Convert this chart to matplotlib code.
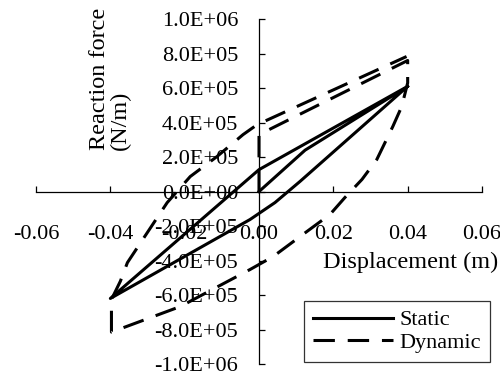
import matplotlib
matplotlib.use("Agg")
import matplotlib.pyplot as plt
import numpy as np

plt.rcParams['font.family'] = ['Liberation Serif', 'DejaVu Serif']

# static test loop (displacement m, reaction force N/m)
static_x = [0, 0.0124, 0.04, 0, -0.04, -0.0024, 0.0043, 0.011, 0.04]
static_y = [0, 2.4e5, 6.1e5, 1.27e5, -6.2e5, -1.62e5, -0.64e5, 0.58e5, 6.1e5]

# dynamic test loop
dynamic_x = [0, 0, 0.04, 0.04, 0.0384, 0.036, 0.0317, 0.0277, 0.0231, 0.0191,
             0.0118, 0.0038, -0.0024, -0.0212, -0.0397, -0.0397, -0.0373,
             -0.0354, -0.0247, -0.0185, -0.0113, -0.0043, -0.0005, 0.0397]
dynamic_y = [0, 3.3e5, 7.6e5, 6.3e5, 4.93e5, 3.77e5, 1.86e5, 0.70e5, -0.35e5,
             -1.33e5, -2.49e5, -3.77e5, -4.52e5, -6.67e5, -8.15e5, -6.26e5,
             -5.2e5, -4.12e5, -0.64e5, 0.87e5, 2.03e5, 3.3e5, 3.88e5, 7.83e5]

x_ticks = [-0.06, -0.04, -0.02, 0.0, 0.02, 0.04, 0.06]
y_ticks = [-1e6, -8e5, -6e5, -4e5, -2e5, 0, 2e5, 4e5, 6e5, 8e5, 1e6]

FS = 16
FS_TITLE = 17.5

fig = plt.figure(figsize=(5, 3.79), dpi=100)
ax = fig.add_axes([0.072, 0.0396, 0.892, 0.910])

ax.plot(static_x, static_y, color='black', lw=2.2, label='Static')
ax.plot(dynamic_x, dynamic_y, color='black', lw=2.2, dashes=(7, 4.2), label='Dynamic')

ax.set_xlim(-0.06, 0.06)
ax.set_ylim(-1e6, 1e6)
ax.spines['left'].set_position(('data', 0))
ax.spines['bottom'].set_position(('data', 0))
ax.spines['top'].set_visible(False)
ax.spines['right'].set_visible(False)
for s in ('left', 'bottom'):
    ax.spines[s].set_linewidth(0.9)

ax.set_xticks(x_ticks)
ax.set_xticklabels(['%.2f' % v for v in x_ticks], fontsize=FS)
ax.set_yticks(y_ticks)
ax.set_yticklabels(['%.1E' % v for v in y_ticks], fontsize=FS)
ax.tick_params(axis='x', direction='in', length=4.5, width=0.9, pad=24)
ax.tick_params(axis='y', direction='in', length=4.5, width=0.9, pad=15)

fig.text(411 / 500, 1 - 262 / 379, 'Displacement (m)', fontsize=FS_TITLE,
         ha='center', va='center')
fig.text(110 / 500, 1 - 150 / 379, 'Reaction force\n(N/m)', fontsize=FS_TITLE,
         rotation=90, ha='center', va='bottom', multialignment='left',
         linespacing=1.0)

leg = ax.legend(loc='lower right', bbox_to_anchor=(490 / 500, 17 / 379),
                bbox_transform=fig.transFigure, fontsize=FS, frameon=True,
                fancybox=False, handlelength=3.6, handletextpad=0.3,
                labelspacing=0.1, borderpad=0.4, borderaxespad=0)
leg.get_frame().set_edgecolor('black')
leg.get_frame().set_linewidth(0.9)

fig.savefig('out.png', dpi=100)
